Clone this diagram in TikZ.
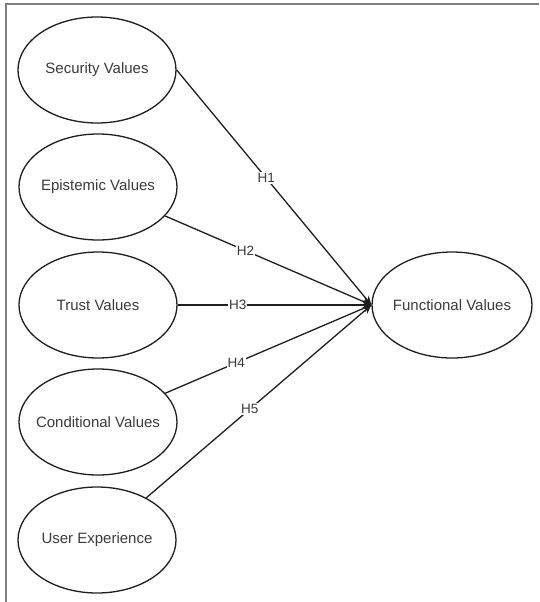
\documentclass[tikz,border=0pt]{standalone}
\usepackage{fontspec}
\setmainfont{Liberation Sans}
\usetikzlibrary{shapes.geometric,arrows.meta}
\definecolor{inkline}{HTML}{1E1E1E}
\definecolor{inktext}{HTML}{3A3A3A}
\definecolor{frameline}{HTML}{808080}
\tikzset{
  construct/.style={ellipse, draw=inkline, line width=1.3pt, minimum width=158pt,
    minimum height=106pt, inner sep=0pt, text=inktext,
    font=\fontsize{15}{18}\selectfont},
  path/.style={draw=inkline, line width=1.3pt,
    -{Stealth[length=9pt,width=8pt]}},
  hyp/.style={fill=white, inner sep=1pt, text=inktext,
    font=\fontsize{13.5}{16}\selectfont},
}
% centred label of zero width, so the ellipse keeps its set size
\newcommand{\ctext}[1]{\makebox[0pt][c]{#1}}
\begin{document}
\begin{tikzpicture}[x=1pt,y=-1pt]
\useasboundingbox (0,0) rectangle (539,602);
% frame
\draw[frameline, line width=1.5pt] (6,602) -- (6,4) -- (539,4);
% constructs
\node[construct] (sec) at (97,70)  {\ctext{Security Values}};
\node[construct] (epi) at (98,187) {\ctext{Epistemic Values}};
\node[construct] (tru) at (98,305) {\ctext{Trust Values}};
\node[construct] (con) at (98,422) {\ctext{Conditional Values}};
\node[construct] (usr) at (97,540) {\ctext{User Experience}};
\node[construct, minimum width=160pt] (fun) at (452,305) {\ctext{Functional Values}};
% hypothesised paths
\draw[path] (sec.east) -- node[hyp, pos=0.46] {H1} (fun.west);
\draw[path] (epi) -- node[hyp, pos=0.39] {H2} (fun.west);
\draw[path] (tru) -- node[hyp, pos=0.31] {H3} (fun.west);
\draw[path] (con) -- node[hyp, pos=0.345] {H4} (fun.west);
\draw[path] (usr) -- node[hyp, pos=0.46] {H5} (fun.west);
\end{tikzpicture}
\end{document}
